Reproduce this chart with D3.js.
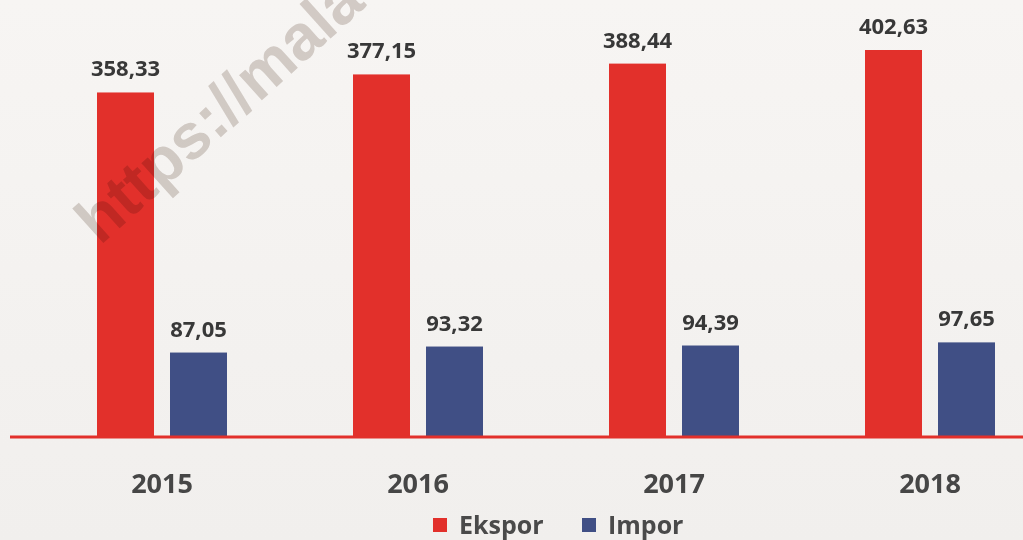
<!DOCTYPE html>
<html><head><meta charset="utf-8">
<script src="https://cdn.jsdelivr.net/npm/d3@7"></script>
<style>html,body{margin:0;padding:0;background:#f5f3f1;}svg{display:block;}</style>
</head><body>
<script>
const years = ["2015","2016","2017","2018"];
const seriesNames = ["Ekspor","Impor"];
const ekspor = [358.33, 377.15, 388.44, 402.63];
const impor = [87.05, 93.32, 94.39, 97.65];
const colors = ["#e2302b","#404f85"];

const W = 1023, H = 540;
const svg = d3.select("body").append("svg").attr("width", W).attr("height", H);

const defs = svg.append("defs");
const grad = defs.append("linearGradient").attr("id","bg").attr("x1","0").attr("y1","0").attr("x2","0").attr("y2","1");
grad.append("stop").attr("offset","0").attr("stop-color","#f7f5f3");
grad.append("stop").attr("offset","1").attr("stop-color","#f1efed");
svg.append("rect").attr("width",W).attr("height",H).attr("fill","url(#bg)");

const baseY = 436;
const y = d3.scaleLinear().domain([0, 402.63]).range([baseY, 50]);
const x0 = d3.scaleBand().domain(years).range([34, 1058]).padding(0);
const x1 = d3.scaleBand().domain(seriesNames).range([63, 193]).paddingInner(16/73).paddingOuter(0);

const data = years.map((yr, i) => ({year: yr, values: [ekspor[i], impor[i]]}));

const groups = svg.append("g").selectAll("g").data(data).join("g")
  .attr("transform", d => `translate(${x0(d.year)},0)`);

groups.selectAll("rect").data(d => d.values.map((v, j) => ({name: seriesNames[j], v, j})))
  .join("rect")
  .attr("x", d => x1(d.name))
  .attr("width", x1.bandwidth())
  .attr("y", d => y(d.v))
  .attr("height", d => baseY - y(d.v))
  .attr("fill", d => colors[d.j]);

const fmt = v => v.toFixed(2).replace(".", ",");
groups.selectAll("text.val").data(d => d.values.map((v, j) => ({name: seriesNames[j], v, j})))
  .join("text").attr("class","val")
  .attr("x", d => x1(d.name) + x1.bandwidth()/2)
  .attr("y", d => y(d.v) - 16)
  .attr("text-anchor","middle")
  .attr("font-family","'Open Sans', 'DejaVu Sans', sans-serif")
  .attr("font-weight","bold")
  .attr("font-size", 22)
  .attr("fill","#383838")
  .text(d => fmt(d.v));

// watermark (over bars, multiplied)
svg.append("text")
  .attr("transform","translate(100,246) rotate(-42)")
  .attr("font-family","'Liberation Sans', Arial, sans-serif")
  .attr("font-weight","bold")
  .attr("font-size", 64)
  .attr("fill","#d9d3cf")
  .style("mix-blend-mode","multiply")
  .text("https://mala");

// axis
const xAxis = d3.axisBottom(x0).tickSize(0).tickPadding(0);
const ax = svg.append("g").attr("transform", `translate(0,${baseY})`).call(xAxis);
ax.select(".domain").remove();
svg.append("line").attr("x1", 10).attr("x2", W).attr("y1", baseY + 1).attr("y2", baseY + 1)
  .attr("stroke", colors[0]).attr("stroke-width", 3);
ax.selectAll(".tick text")
  .attr("y", 57)
  .attr("dy", 0)
  .attr("font-family","'Open Sans', 'DejaVu Sans', sans-serif")
  .attr("font-weight","bold")
  .attr("font-size", 27)
  .attr("fill","#464646");

// legend
const legend = svg.append("g").attr("transform","translate(433,0)");
const lItems = [{name:"Ekspor", x:0, c:colors[0]}, {name:"Impor", x:149, c:colors[1]}];
const li = legend.selectAll("g").data(lItems).join("g").attr("transform", d => `translate(${d.x},0)`);
li.append("rect").attr("x",0).attr("y",518).attr("width",14).attr("height",14).attr("fill", d => d.c);
li.append("text").attr("x",26).attr("y",534)
  .attr("font-family","'Open Sans', 'DejaVu Sans', sans-serif")
  .attr("font-weight","bold")
  .attr("font-size", 25)
  .attr("fill","#4a4a4a")
  .text(d => d.name);
</script>
</body></html>
